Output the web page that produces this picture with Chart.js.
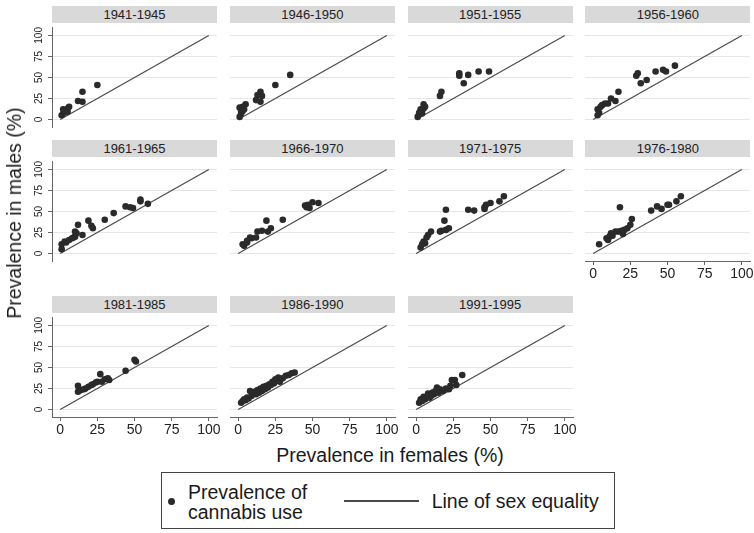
<!DOCTYPE html>
<html><head><meta charset="utf-8">
<script src="https://cdn.jsdelivr.net/npm/chart.js@4/dist/chart.umd.min.js"></script>
<style>
body{margin:0;background:#fff;width:754px;height:533px;overflow:hidden;position:relative;font-family:"Liberation Sans",Arial,sans-serif;color:#1a1a1a;}
.hdr{position:absolute;height:17px;width:165px;background:#d9d9d9;color:#222;font-size:13px;line-height:17px;text-align:center;}
canvas{position:absolute;}
.abs{position:absolute;white-space:nowrap;}
</style></head><body>
<script>
// ---- data ----
const panelTitles = ["1941-1945","1946-1950","1951-1955","1956-1960","1961-1965","1966-1970","1971-1975","1976-1980","1981-1985","1986-1990","1991-1995"];
const p1941 = [[1,5],[2,7],[3,9],[4,11],[2,12],[5,13],[6,15],[3,10],[5,9],[12,22],[15,21],[15,33],[25,41]];
const p1946 = [[35,53],[25,41],[15,33],[13,29],[16,28],[12,23],[15,21],[5,18],[1,14],[3,10],[2,7],[4,12],[1,3],[3,15],[2,9]];
const p1951 = [[1,3],[2,6],[3,9],[4,11],[5,13],[6,15],[5,18],[3,12],[2,8],[4,7],[17,33],[16,28],[29,55],[29,52],[32,43],[35,53],[42,57],[49,57]];
const p1956 = [[3,5],[4,8],[3,12],[5,15],[6,17],[8,19],[10,19],[12,25],[15,22],[17,33],[29,52],[30,55],[32,43],[36,47],[42,57],[47,59],[49,57],[55,64]];
const p1961 = [[1,5],[1,11],[3,14],[4,13],[6,16],[8,18],[9,19],[10,20],[11,24],[10,26],[12,34],[15,22],[19,39],[21,33],[22,30],[30,40],[36,48],[44,56],[47,55],[49,54],[54,62],[54,64],[59,59]];
const p1966 = [[3,11],[4,9],[6,13],[6,15],[8,19],[9,18],[12,19],[13,26],[16,27],[20,26],[22,30],[19,39],[30,40],[45,57],[46,55],[47,58],[48,54],[50,61],[54,60]];
const p1971 = [[3,7],[4,11],[5,14],[7,19],[8,22],[10,26],[6,12],[16,26],[17,27],[20,28],[22,30],[19,39],[20,52],[35,52],[39,51],[46,53],[46,55],[47,58],[50,60],[56,62],[59,68]];
const p1976 = [[4,11],[9,18],[10,16],[11,20],[12,24],[13,21],[15,26],[17,26],[19,27],[20,23],[21,28],[23,30],[25,34],[26,41],[18,55],[39,51],[43,56],[46,53],[50,58],[51,58],[56,62],[59,68]];
const p1981 = [[12,28],[12,21],[14,23],[16,24],[17,25],[19,27],[21,29],[22,30],[24,32],[25,33],[27,42],[28,33],[30,36],[32,37],[33,35],[44,46],[50,59],[51,57]];
const p1986 = [[2,8],[3,10],[4,12],[5,11],[6,14],[7,13],[8,22],[9,16],[10,19],[11,21],[12,18],[13,23],[14,20],[15,25],[16,22],[17,27],[18,24],[19,28],[20,26],[21,30],[22,29],[23,33],[24,31],[25,36],[26,34],[27,38],[28,33],[30,37],[32,40],[34,41],[36,43],[38,44]];
const p1991 = [[2,8],[3,12],[4,10],[5,15],[6,12],[8,19],[9,14],[10,16],[11,20],[12,18],[13,22],[14,26],[15,20],[16,24],[18,22],[20,25],[22,24],[23,28],[24,35],[26,35],[27,29],[31,41]];
const panelData = [p1941,p1946,p1951,p1956,p1961,p1966,p1971,p1976,p1981,p1986,p1991];
const tickValues = [0,25,50,75,100];
const equalityLine = [0,100];
const yTitle = "Prevalence in males (%)";
const xTitle = "Prevalence in females (%)";
const legendPoints = ["Prevalence of","cannabis use"];
const legendLine = "Line of sex equality";

// ---- layout ----
const colLeft = [52, 229.8, 407.6, 585.4];
const rowTop = [22.9, 156.6, 312.9];
const leftW = 50, plotW = 165, plotH = 104, rightPad = 12, bottomH = 26, hdrH = 17;
const FONT = "'Liberation Sans', Arial, sans-serif";

function makePanel(i){
  const col = i % 4, row = Math.floor(i / 4);
  const L = colLeft[col], T = rowTop[row];
  const showY = col === 0;
  const showX = row === 2 || i === 7;

  const hdr = document.createElement('div');
  hdr.className = 'hdr';
  hdr.style.left = L + 'px';
  hdr.style.top = (T - hdrH) + 'px';
  hdr.textContent = panelTitles[i];
  document.body.appendChild(hdr);

  const cv = document.createElement('canvas');
  const W = leftW + plotW + rightPad, H = plotH + bottomH;
  cv.width = W; cv.height = H;
  cv.style.left = (L - leftW) + 'px'; cv.style.top = T + 'px';
  cv.style.width = W + 'px'; cv.style.height = H + 'px';
  document.body.appendChild(cv);

  new Chart(cv, {
    type: 'scatter',
    data: { datasets: [
      { data: panelData[i].map(([x, y]) => ({x, y})), backgroundColor: '#2a2a2a', borderWidth: 0, pointRadius: 3.3, order: 0 },
      { data: equalityLine.map(v => ({x: v, y: v})), showLine: true, borderColor: '#4a4a4a', borderWidth: 1.2, pointRadius: 0, fill: false, order: 1 }
    ]},
    options: {
      responsive: false, animation: false, devicePixelRatio: 1,
      layout: { padding: { left: 0, top: 0, right: rightPad, bottom: 0 } },
      plugins: { legend: { display: false }, tooltip: { enabled: false } },
      scales: {
        x: {
          type: 'linear', min: -5.5, max: 105.5, position: 'bottom',
          afterBuildTicks: s => { s.ticks = tickValues.map(v => ({value: v})); },
          afterFit: s => { s.height = bottomH; s.paddingLeft = 0; s.paddingRight = 0; },
          grid: { display: showX, drawOnChartArea: false, drawTicks: true, tickLength: 4, tickColor: '#666', lineWidth: 1 },
          border: { display: showX, color: '#666', width: 1 },
          ticks: { display: showX, font: { size: 14, family: FONT }, color: '#222', padding: 1, maxRotation: 0, autoSkip: false }
        },
        y: {
          type: 'linear', min: -9, max: 110, position: 'left',
          afterBuildTicks: s => { s.ticks = tickValues.map(v => ({value: v})); },
          afterFit: s => { s.width = leftW; s.paddingTop = 0; s.paddingBottom = 0; },
          grid: { color: '#e6e6e6', lineWidth: 1, drawTicks: showY, tickLength: 4, tickColor: '#666' },
          border: { display: showY, color: '#666', width: 1 },
          ticks: { display: showY, minRotation: 90, maxRotation: 90, crossAlign: 'center', padding: 0, font: { size: 10, family: FONT }, color: '#222', autoSkip: false }
        }
      }
    }
  });
}
panelTitles.forEach((_, i) => makePanel(i));

function addText(txt, css){
  const d = document.createElement('div');
  d.className = 'abs';
  d.textContent = txt;
  Object.assign(d.style, css);
  document.body.appendChild(d);
  return d;
}
addText(yTitle, { left: '14px', top: '213px', fontSize: '19.5px', transform: 'translate(-50%,-50%) rotate(-90deg)', lineHeight: '22px' });
addText(xTitle, { left: '390px', top: '455px', fontSize: '19.5px', transform: 'translate(-50%,-50%)', lineHeight: '22px' });

const box = document.createElement('div');
Object.assign(box.style, { position: 'absolute', left: '160.7px', top: '471.7px', width: '454.3px', height: '57.3px', border: '1px solid #444', boxSizing: 'border-box' });
document.body.appendChild(box);
const dot = document.createElement('div');
Object.assign(dot.style, { position: 'absolute', left: '168.2px', top: '497.5px', width: '7px', height: '7px', borderRadius: '50%', background: '#2a2a2a' });
document.body.appendChild(dot);
const lg1 = addText('', { left: '188px', top: '481.7px', fontSize: '19.5px', lineHeight: '20px' });
lg1.innerHTML = legendPoints.join('<br>');
const ln = document.createElement('div');
Object.assign(ln.style, { position: 'absolute', left: '344px', top: '500.3px', width: '75px', height: '1.4px', background: '#4a4a4a' });
document.body.appendChild(ln);
addText(legendLine, { left: '431.7px', top: '491px', fontSize: '19.5px', lineHeight: '20px' });
</script>
</body></html>
